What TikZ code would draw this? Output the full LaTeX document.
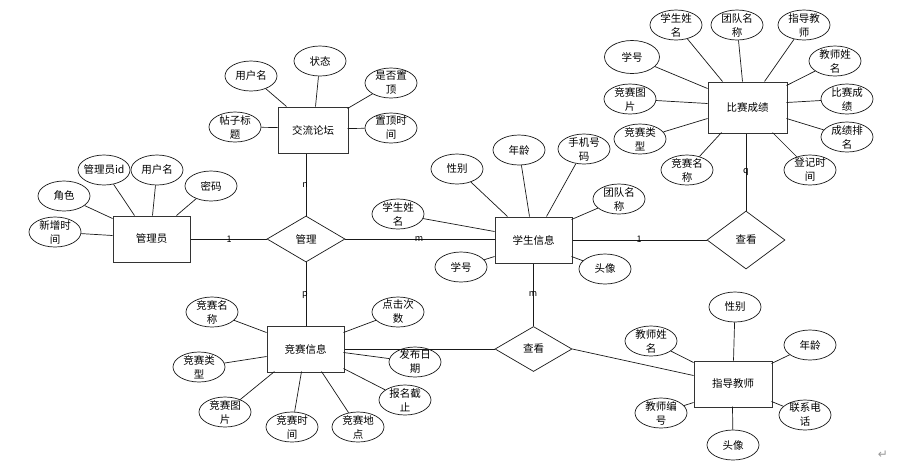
\documentclass[tikz,border=0pt]{standalone}
\usepackage{fontspec}
\setmainfont{Noto Sans CJK SC}
\newfontfamily\symfont{DejaVu Sans}
\usetikzlibrary{shapes.geometric,calc}
\newcommand\attrnode[3]{\node[attr,label={[lbl]center:#3}] (#1) at (#2) {};}
\begin{document}
\begin{tikzpicture}[x=1pt,y=-1pt,
 ent/.style={draw=black!80,line width=1pt,rectangle,inner sep=0,minimum width=77,minimum height=46,font=\fontsize{10.5}{12}\selectfont},
 rel/.style={draw=black!90,line width=0.7pt,diamond,inner sep=0,minimum width=78,minimum height=46,font=\fontsize{10.5}{12}\selectfont},
 attr/.style={draw=black!90,line width=0.7pt,ellipse,inner sep=0,minimum width=52,minimum height=30},
 lbl/.style={align=center,font=\fontsize{10.5}{14}\selectfont,inner sep=0},
 conn/.style={draw=black!90,line width=0.7pt},
 card/.style={font=\fontsize{9}{10}\selectfont,inner sep=0}
]
\useasboundingbox (0,0) rectangle (910,467);
\fill[white] (0,0) rectangle (910,467);

% entities
\node[ent,minimum width=79,minimum height=51] (bs) at (747.5,107.5) {比赛成绩};
\node[ent] (si) at (533.5,240) {学生信息};
\node[ent,minimum width=70] (fo) at (313,130) {交流论坛};
\node[ent] (ad) at (151.5,239) {管理员};
\node[ent] (ci) at (305.5,349) {竞赛信息};
\node[ent,minimum width=78] (te) at (733,384) {指导教师};

% relationships
\node[rel] (gl) at (306,239) {管理};
\node[rel,minimum height=58] (ckR) at (746,240) {查看};
\node[rel,minimum width=77,minimum height=45] (ckB) at (533.5,349) {查看};

% 比赛成绩 attributes
\attrnode{b1}{676,25}{学生姓\\名}
\attrnode{b2}{737,25}{团队名\\称}
\attrnode{b3}{804,25}{指导教\\师}
\node[attr,minimum width=55,minimum height=33,label={[lbl]center:学号}] (b4) at (632,57) {};
\attrnode{b5}{835,61}{教师姓\\名}
\attrnode{b6}{630,99}{竞赛图\\片}
\attrnode{b7}{847,99}{比赛成\\绩}
\attrnode{b8}{640,139}{竞赛类\\型}
\attrnode{b9}{847,137}{成绩排\\名}
\attrnode{b10}{687,170}{竞赛名\\称}
\attrnode{b11}{810,170}{登记时\\间}
\draw[conn] (b1) -- ($(bs.north west)+(15,0)$);
\draw[conn] (b2) -- ($(bs.north west)+(35,0)$);
\draw[conn] (b3) -- ($(bs.north west)+(57,0)$);
\draw[conn] (b4) -- ($(bs.north west)+(0,7)$);
\draw[conn] (b5) -- ($(bs.north west)+(79,4)$);
\draw[conn] (b6) -- ($(bs.north west)+(0,22)$);
\draw[conn] (b7) -- ($(bs.north west)+(79,21)$);
\draw[conn] (b8) -- ($(bs.north west)+(0,37)$);
\draw[conn] (b9) -- ($(bs.north west)+(79,37)$);
\draw[conn] (b10) -- ($(bs.north west)+(14,51)$);
\draw[conn] (b11) -- ($(bs.north west)+(65,51)$);

% 学生信息 attributes
\attrnode{s1}{457,169}{性别}
\attrnode{s2}{519,150}{年龄}
\attrnode{s3}{584,149}{手机号\\码}
\attrnode{s4}{619,199}{团队名\\称}
\attrnode{s5}{398,214}{学生姓\\名}
\attrnode{s6}{461,267}{学号}
\attrnode{s7}{605,269}{头像}
\draw[conn] (s1) -- ($(si.north west)+(13,0)$);
\draw[conn] (s2) -- ($(si.north west)+(35,0)$);
\draw[conn] (s3) -- ($(si.north west)+(52,0)$);
\draw[conn] (s4) -- ($(si.north west)+(77,3)$);
\draw[conn] (s5) -- ($(si.north west)+(0,15)$);
\draw[conn] (s6) -- ($(si.north west)+(0,40)$);
\draw[conn] (s7) -- ($(si.north west)+(77,40)$);

% 交流论坛 attributes
\attrnode{f1}{251,76}{用户名}
\attrnode{f2}{320,61}{状态}
\attrnode{f3}{391,83}{是否置\\顶}
\attrnode{f4}{235,127}{帖子标\\题}
\attrnode{f5}{391,128}{置顶时\\间}
\draw[conn] (f1) -- ($(fo.north west)+(9,0)$);
\draw[conn] (f2) -- ($(fo.north west)+(38,0)$);
\draw[conn] (f3) -- ($(fo.north west)+(70,2)$);
\draw[conn] (f4) -- ($(fo.north west)+(0,21)$);
\draw[conn] (f5) -- ($(fo.north west)+(70,22)$);

% 管理员 attributes
\attrnode{a1}{104,170}{管理员id}
\attrnode{a2}{157,170}{用户名}
\attrnode{a3}{211,186}{密码}
\attrnode{a4}{64,196}{角色}
\attrnode{a5}{55,232}{新增时\\间}
\draw[conn] (a1) -- ($(ad.north west)+(22,0)$);
\draw[conn] (a2) -- ($(ad.north west)+(40,0)$);
\draw[conn] (a3) -- ($(ad.north west)+(64,0)$);
\draw[conn] (a4) -- ($(ad.north west)+(0,3)$);
\draw[conn] (a5) -- ($(ad.north west)+(0,20)$);

% 竞赛信息 attributes
\attrnode{c1}{212,312}{竞赛名\\称}
\attrnode{c2}{398,312}{点击次\\数}
\attrnode{c3}{199,367}{竞赛类\\型}
\attrnode{c4}{415,362}{发布日\\期}
\attrnode{c5}{405,400}{报名截\\止}
\attrnode{c6}{225,412}{竞赛图\\片}
\attrnode{c7}{292,427}{竞赛时\\间}
\attrnode{c8}{358,427}{竞赛地\\点}
\draw[conn] (c1) -- ($(ci.north west)+(0,7)$);
\draw[conn] (c2) -- ($(ci.north west)+(77,7)$);
\draw[conn] (c3) -- ($(ci.north west)+(0,31)$);
\draw[conn] (c4) -- ($(ci.north west)+(77,27)$);
\draw[conn] (c5) -- ($(ci.north west)+(77,43)$);
\draw[conn] (c6) -- ($(ci.north west)+(8,46)$);
\draw[conn] (c7) -- ($(ci.north west)+(35,46)$);
\draw[conn] (c8) -- ($(ci.north west)+(55,46)$);

% 指导教师 attributes
\attrnode{t1}{735,307}{性别}
\attrnode{t2}{651,341}{教师姓\\名}
\attrnode{t3}{810,345}{年龄}
\attrnode{t4}{661,413}{教师编\\号}
\attrnode{t5}{805,415}{联系电\\话}
\attrnode{t6}{733,445}{头像}
\draw[conn] (t1) -- ($(te.north west)+(40,0)$);
\draw[conn] (t2) -- ($(te.north west)+(0,2)$);
\draw[conn] (t3) -- ($(te.north west)+(78,3)$);
\draw[conn] (t4) -- ($(te.north west)+(0,42)$);
\draw[conn] (t5) -- ($(te.north west)+(78,41)$);
\draw[conn] (t6) -- ($(te.north west)+(39,46)$);

% relationship connectors
\draw[conn] (ad.east) -- (gl.west);
\draw[conn] (gl.east) -- (gl.east -| si.west);
\draw[conn] (gl.north) -- (gl.north |- fo.south);
\draw[conn] (gl.south) -- (gl.south |- ci.north);
\draw[conn] (si.east) -- (ckR.west);
\draw[conn] (ckR.north) -- (ckR.north |- bs.south);
\draw[conn] (si.south) -- (ckB.north);
\draw[conn] (ckB.west) -- (ckB.west -| ci.east);
\draw[conn] (ckB.east) -- ($(te.north west)+(0,15)$);

% cardinalities
\node[card] (k1) at (229,239) {1};
\node[card] (k2) at (419,239) {m};
\node[card] (k3) at (305,185) {n};
\node[card] (k4) at (305,295) {p};
\node[card] (k5) at (746,172) {q};
\node[card] (k6) at (639,239) {1};
\node[card] (k7) at (533,294) {m};

\node[font=\symfont\fontsize{12}{12}\selectfont,text=black!40,inner sep=0] (ret) at (883,455) {↵};
\end{tikzpicture}
\end{document}
